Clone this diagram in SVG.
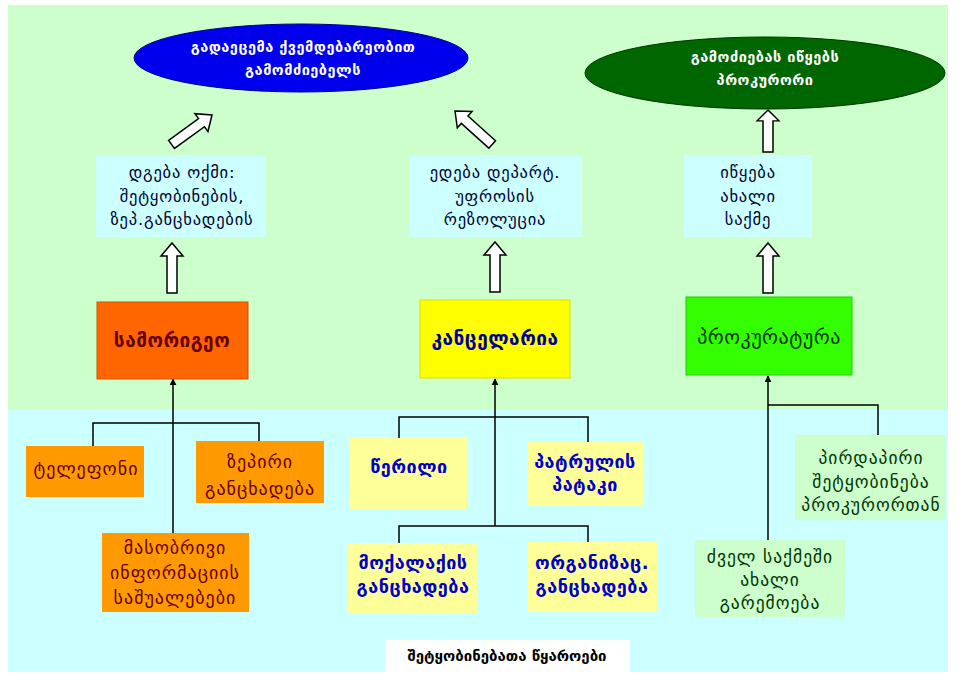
<svg xmlns="http://www.w3.org/2000/svg" width="958" height="674" viewBox="0 0 958 674">
<defs>
<marker id="ah" viewBox="0 0 10 10" refX="9" refY="5" markerWidth="7" markerHeight="7" orient="auto" markerUnits="userSpaceOnUse">
<path d="M0,0 L10,5 L0,10 Z" fill="#000"/>
</marker>
<path id="up" d="M0,0 L11,13 L5,13 L5,50 L-5,50 L-5,13 L-11,13 Z"/>
<style>
text{font-family:"DejaVu Sans","Noto Sans",sans-serif;font-size:15px;text-anchor:middle;}
.hol{fill:#fff;stroke:#000;stroke-width:1.5;}
.ln{fill:none;stroke:#000;stroke-width:1.5;}
.ell{font-weight:bold;fill:#fff;font-size:14.5px;letter-spacing:0.5px;}
.cy{fill:#ccffff;}
.tc{fill:#000033;font-size:16.5px;letter-spacing:0.8px;}
.ob{fill:#ff9900;}
.ot{fill:#660000;font-size:18px;letter-spacing:1px;}
.yb{fill:#ffff99;}
.yt{fill:#0000cc;font-weight:bold;font-size:18px;letter-spacing:0.5px;}
.gb{fill:#ccffcc;}
.gt{fill:#003300;font-size:17.5px;letter-spacing:1px;}
.mt{font-size:19px;letter-spacing:0.5px;}
</style>
</defs>
<rect x="0" y="0" width="958" height="674" fill="#fff"/>
<rect x="8" y="5" width="940" height="405" fill="#ccffcc"/>
<rect x="8" y="410" width="940" height="262" fill="#ccffff"/>

<g id="connectors">
<use href="#up" class="hol" transform="translate(212,115) rotate(54)"/>
<use href="#up" class="hol" transform="translate(455,111) rotate(-48)"/>
<use href="#up" class="hol" transform="translate(768,110) scale(1,0.84)"/>
<use href="#up" class="hol" transform="translate(172,243)"/>
<use href="#up" class="hol" transform="translate(495,242)"/>
<use href="#up" class="hol" transform="translate(768,243)"/>
<path class="ln" d="M173,533 L173,379" marker-end="url(#ah)"/>
<path class="ln" d="M93,446 L93,423 L259,423 L259,441"/>
<path class="ln" d="M495,526 L495,379" marker-end="url(#ah)"/>
<path class="ln" d="M399,438 L399,417 L588,417 L588,442"/>
<path class="ln" d="M399,543 L399,526 L588,526 L588,542"/>
<path class="ln" d="M768,540 L768,376" marker-end="url(#ah)"/>
<path class="ln" d="M768,405 L878,405 L878,435"/>
</g>

<g id="n-transfer">
<ellipse cx="301" cy="58" rx="167" ry="34" fill="#0000ee" stroke="#000088" stroke-width="1"/>
<text class="ell" x="303" y="52">გადაეცემა ქვემდებარეობით</text>
<text class="ell" x="303" y="75">გამომძიებელს</text>
</g>
<g id="n-prosecutor-starts">
<ellipse cx="765" cy="73" rx="180" ry="36" fill="#006600" stroke="#003300" stroke-width="1"/>
<text class="ell" x="765" y="62">გამოძიებას იწყებს</text>
<text class="ell" x="765" y="85">პროკურორი</text>
</g>

<g id="n-protocol">
<rect class="cy" x="96" y="155" width="170" height="82"/>
<text class="tc" x="182" y="178">დგება ოქმი:</text>
<text class="tc" x="182" y="202">შეტყობინების,</text>
<text class="tc" x="182" y="225">ზეპ.განცხადების</text>
</g>
<g id="n-resolution">
<rect class="cy" x="410" y="155" width="172" height="82"/>
<text class="tc" x="495" y="178">ედება დეპარტ.</text>
<text class="tc" x="495" y="202">უფროსის</text>
<text class="tc" x="495" y="225">რეზოლუცია</text>
</g>
<g id="n-newcase">
<rect class="cy" x="684" y="155" width="128" height="82"/>
<text class="tc" x="748" y="178">იწყება</text>
<text class="tc" x="748" y="202">ახალი</text>
<text class="tc" x="748" y="225">საქმე</text>
</g>

<g id="n-duty">
<rect x="97" y="302" width="151" height="77" fill="#ff6600" stroke="#cc5500" stroke-width="1"/>
<text class="mt" x="172" y="347" font-weight="bold" fill="#660000">სამორიგეო</text>
</g>
<g id="n-chancellery">
<rect x="420" y="300" width="150" height="78" fill="#ffff00" stroke="#dddd00" stroke-width="1"/>
<text class="mt" x="495" y="345" font-weight="bold" fill="#000099">კანცელარია</text>
</g>
<g id="n-prosecution">
<rect x="686" y="297" width="166" height="78" fill="#33ff00" stroke="#22cc00" stroke-width="1"/>
<text class="mt" x="769" y="344" fill="#003300" style="font-size:20px">პროკურატურა</text>
</g>

<g id="n-phone">
<rect class="ob" x="26" y="446" width="118" height="51"/>
<text class="ot" x="86" y="475">ტელეფონი</text>
</g>
<g id="n-oral">
<rect class="ob" x="196" y="441" width="128" height="62"/>
<text class="ot" x="260" y="468">ზეპირი</text>
<text class="ot" x="260" y="495">განცხადება</text>
</g>
<g id="n-media">
<rect class="ob" x="102" y="533" width="147" height="79"/>
<text class="ot" x="175" y="554">მასობრივი</text>
<text class="ot" x="175" y="579">ინფორმაციის</text>
<text class="ot" x="175" y="604">საშუალებები</text>
</g>

<g id="n-letter">
<rect class="yb" x="350" y="438" width="118" height="71"/>
<text class="yt" x="409" y="473">წერილი</text>
</g>
<g id="n-patrol">
<rect class="yb" x="527" y="442" width="117" height="63"/>
<text class="yt" x="585" y="468">პატრულის</text>
<text class="yt" x="585" y="491">პატაკი</text>
</g>
<g id="n-citizen">
<rect class="yb" x="348" y="543" width="130" height="70"/>
<text class="yt" x="413" y="569">მოქალაქის</text>
<text class="yt" x="413" y="593">განცხადება</text>
</g>
<g id="n-org">
<rect class="yb" x="528" y="542" width="129" height="70"/>
<text class="yt" x="592" y="569">ორგანიზაც.</text>
<text class="yt" x="592" y="593">განცხადება</text>
</g>

<g id="n-direct">
<rect class="gb" x="795" y="435" width="151" height="85"/>
<text class="gt" x="871" y="464">პირდაპირი</text>
<text class="gt" x="871" y="488">შეტყობინება</text>
<text class="gt" x="871" y="511">პროკურორთან</text>
</g>
<g id="n-oldcase">
<rect class="gb" x="695" y="540" width="150" height="77"/>
<text class="gt" x="770" y="563">ძველ საქმეში</text>
<text class="gt" x="770" y="586">ახალი</text>
<text class="gt" x="770" y="609">გარემოება</text>
</g>

<g id="n-title">
<rect x="385" y="640" width="245" height="32" fill="#fff"/>
<text x="507" y="661" font-weight="bold" font-size="15" fill="#000">შეტყობინებათა წყაროები</text>
</g>
</svg>
